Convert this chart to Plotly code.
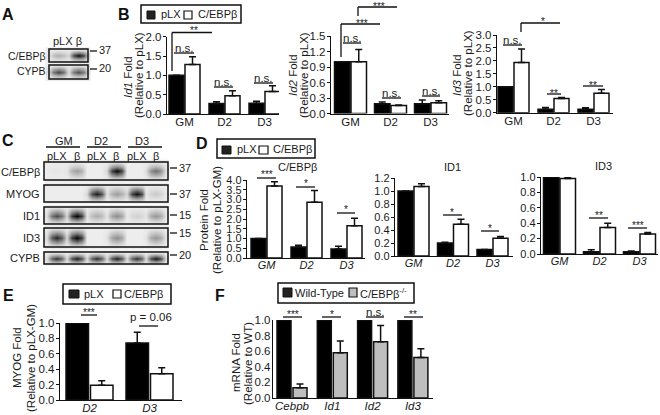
import plotly.graph_objects as go

W, H = 660, 415
FONT = "Liberation Sans"
INK = "#1a1a1a"

# ---------- data ----------
cats_time = ["GM", "D2", "D3"]
cats_e = ["D2", "D3"]
cats_f = ["Cebpb", "Id1", "Id2", "Id3"]

id1_plx = [1.0, 0.27, 0.28];   id1_plx_err = [0, 0.05, 0.05]
id1_ceb = [1.28, 0.47, 0.58];  id1_ceb_err = [0.20, 0.13, 0.15]
id2_plx = [1.0, 0.19, 0.19];   id2_plx_err = [0, 0.035, 0.07]
id2_ceb = [1.0, 0.155, 0.21];  id2_ceb_err = [0.24, 0.01, 0.035]
id3_plx = [1.0, 0.13, 0.13];   id3_plx_err = [0, 0.07, 0.06]
id3_ceb = [1.94, 0.55, 0.75];  id3_ceb_err = [0.52, 0.04, 0.15]

pc_plx = [1.0, 0.56, 0.46];    pc_plx_err = [0, 0.09, 0.14]
pc_ceb = [3.69, 2.86, 1.65];   pc_ceb_err = [0.22, 0.60, 0.39]
p1_plx = [1.0, 0.20, 0.10];    p1_plx_err = [0, 0.01, 0]
p1_ceb = [1.07, 0.49, 0.275];  p1_ceb_err = [0.04, 0.075, 0.025]
p3_plx = [1.0, 0.03, 0.03];    p3_plx_err = [0, 0.025, 0.01]
p3_ceb = [0.98, 0.343, 0.26];  p3_ceb_err = [0.02, 0.057, 0.02]

myog_plx = [1.0, 0.74];        myog_plx_err = [0, 0.14]
myog_ceb = [0.19, 0.34];       myog_ceb_err = [0.06, 0.08]

ko_wt = [1.0, 1.0, 1.0, 1.0];  ko_wt_err = [0, 0, 0, 0]
ko_ko = [0.13, 0.58, 0.72, 0.52]; ko_ko_err = [0.05, 0.15, 0.21, 0.11]

# blot band strengths per lane (0 = blank, 1 = saturated)
blot_a_ceb = [0.28, 0.95]
blot_a_cypb = [0.72, 0.68]
blot_c_ceb = [0.03, 0.35, 0.0, 0.98, 0.0, 0.55]
blot_c_myog = [0.0, 0.0, 0.9, 0.35, 0.95, 0.15]
blot_c_id1 = [0.7, 1.0, 0.28, 0.42, 0.12, 0.38]
blot_c_id3 = [0.85, 1.0, 0.0, 0.42, 0.0, 0.38]
blot_c_cypb = [0.8, 0.9, 0.82, 0.88, 0.8, 0.92]

# ---------- helpers ----------
fig = go.Figure()
shapes, annots = [], []
layout = {}
axn = [1]


def px(x):
    return x / W


def py(y):
    return 1 - y / H


def text(x, y, s, size=11.5, anchor="center", angle=0, **kw):
    annots.append(dict(x=px(x), y=py(y), xref="paper", yref="paper", text=s, showarrow=False,
                       xanchor=anchor, yanchor="middle", textangle=angle,
                       font=dict(family=FONT, size=size, color=kw.get("color", INK)),
                       borderpad=0, borderwidth=0))


def line(x0, y0, x1, y1, w=1.3):
    shapes.append(dict(type="line", xref="paper", yref="paper", x0=px(x0), y0=py(y0), x1=px(x1),
                       y1=py(y1), line=dict(color="#111", width=w)))


def rect(x0, y0, x1, y1, fill="rgba(0,0,0,0)", w=1.3, layer="above"):
    shapes.append(dict(type="rect", xref="paper", yref="paper", x0=px(x0), y0=py(y0), x1=px(x1),
                       y1=py(y1), fillcolor=fill, line=dict(color="#111", width=w), layer=layer))


def sig(x0, x1, y, label, ty=None, size=None):
    line(x0, y, x1, y)
    star = label.startswith("*")
    pos = ty if ty is not None else y - (3 if star else 5)
    text((x0 + x1) / 2, pos + (2 if star else 0), label, size=size or (10 if star else 11.5))


def bracket(x0, y0, ytop, x1, label, ty):
    line(x0, y0, x0, ytop)
    line(x0, ytop, x1, ytop)
    text((x0 + x1) / 2 + 2, ty + 2, label, size=10)


def panel(left, right, bottom, top, ymax, dtick, cats, a, ae, b, be, c0, pitch, bw, gap=1,
          bcolor="white", italic=False, names=("pLX", "C/EBPβ"), fs=11.5, tl=3):
    i = axn[0]
    axn[0] += 1
    xa, ya = ("x", "y") if i == 1 else (f"x{i}", f"y{i}")
    xkey, ykey = ("xaxis", "yaxis") if i == 1 else (f"xaxis{i}", f"yaxis{i}")
    layout[xkey] = dict(domain=[px(left), px(right)], anchor=ya, type="category",
                        range=[(left - c0) / pitch, (right - c0) / pitch], showgrid=False,
                        showline=True, linecolor="#111", linewidth=1.4, ticks="", zeroline=False,
                        ticklabelstandoff=-3,
                        tickfont=dict(family=FONT, size=fs, color=INK,
                                      style="italic" if italic else "normal"))
    layout[ykey] = dict(domain=[py(bottom), py(top)], anchor=xa, range=[0, ymax], dtick=dtick, tick0=0,
                        tickformat=".1f", showgrid=False, zeroline=False, showline=True,
                        linecolor="#111", linewidth=1.4, ticks="outside", ticklen=tl, tickwidth=1.2,
                        ticklabelstandoff=-1,
                        tickcolor="#111", tickfont=dict(family=FONT, size=fs, color=INK))
    w = bw / pitch
    g = gap / 2 / pitch
    for vals, errs, col, off, nm in ((a, ae, "black", -w - g, names[0]), (b, be, bcolor, g, names[1])):
        fig.add_trace(go.Bar(x=cats, y=vals, width=w, offset=off, name=nm, xaxis=xa, yaxis=ya,
                             marker=dict(color=col, line=dict(color="#111", width=1.5)),
                             error_y=dict(type="data", array=errs, arrayminus=[0] * len(errs),
                                          symmetric=False, color="#111", thickness=1.5, width=3.5),
                             showlegend=False))


def blot(strengths, lane0, pitch, y0, y1, box_x0, box_x1, rows=(0.0, 0.45, 1.0, 0.45, 0.0)):
    col_shape = [0.1, 0.75, 1.0, 0.75]
    xs, col_index, col_w = [], [], []
    for i in range(len(strengths)):
        for k, cw in enumerate(col_shape):
            xs.append(lane0 + (i - 0.5 + k / 4) * pitch)
            col_index.append(i)
            col_w.append(cw)
    xs.append(lane0 + (len(strengths) - 0.5) * pitch)
    col_index.append(len(strengths) - 1)
    col_w.append(0.1)
    ny = len(rows)
    ys = [y0 + (y1 - y0) * j / (ny - 1) for j in range(ny)]
    z = [[0.04 + 0.96 * strengths[ci] * cw * r for ci, cw in zip(col_index, col_w)] for r in rows]
    fig.add_trace(go.Heatmap(x=xs, y=ys, z=z, xaxis="x99", yaxis="y99", zmin=0, zmax=1,
                             zsmooth="best", showscale=False, hoverinfo="skip",
                             colorscale=[[0, "#f6f6f6"], [0.5, "#808080"], [1, "#000000"]]))
    rect(box_x0, y0, box_x1, y1, w=1.5)


# ---------- panel letters ----------
for x, y, s in ((8, 14, "A"), (124, 14, "B"), (8, 140, "C"), (202, 143, "D"), (8, 295, "E"), (220, 295, "F")):
    text(x, y, s, size=16, anchor="center")
    annots[-1]["text"] = f"<b>{s}</b>"
    annots[-1]["font"]["color"] = "#111"

# ---------- A ----------
text(67, 41, "pLX β", size=11)
text(46, 56, "C/EBPβ", size=10.5, anchor="right")
text(46, 71, "CYPB", size=10.5, anchor="right")
blot(blot_a_ceb, 58, 20, 49, 62, 49, 88)
blot(blot_a_cypb, 58, 20, 65, 79, 49, 88)
line(90, 51, 97, 51)
text(99, 50, "37", size=11, anchor="left")
line(90, 69, 97, 69)
text(99, 68, "20", size=11, anchor="left")


# ---------- legends ----------
def legend(x0, y0, x1, y1, sw1, t1x, sw2, t2x, t2="C/EBPβ", fill2="white", sy=(0, 0)):
    rect(x0, y0, x1, y1, w=1.5)
    rect(sw1[0], sy[0], sw1[1], sy[1], fill="#222", w=1)
    text(t1x[0], (y0 + y1) / 2, t1x[1], anchor="left", size=11)
    rect(sw2[0], sy[0], sw2[1], sy[1], fill=fill2, w=1.2)
    text(t2x, (y0 + y1) / 2, t2, anchor="left", size=11)


legend(141, 5, 241, 23, (147, 155), (161, "pLX"), (184, 192), 198, sy=(11, 19))
legend(217, 139, 315, 158, (222, 231), (237, "pLX"), (259, 268), 273, sy=(146, 154))
legend(63, 284, 171, 304, (69, 79), (84, "pLX"), (113, 121), 124, sy=(290, 298))
legend(278, 283, 414, 303, (283, 292), (295, "Wild-Type"), (349, 357), 360,
       t2="C/EBPβ<sup>-/-</sup>", fill2="#BEBEBE", sy=(288, 297))

# ---------- B ----------
panel(167, 279, 114, 36.7, 2.0, 0.5, cats_time, id1_plx, id1_plx_err, id1_ceb, id1_ceb_err, 184.5, 40, 15)
text(128, 77, "<i>Id1</i> Fold", angle=-90)
text(139, 75, "(Relative to pLX)", angle=-90)
bracket(172, 71, 32.5, 212, "**", 29)
sig(174, 194, 53, "n.s.")
sig(214, 233, 87, "n.s.")
sig(254, 273, 83, "n.s.")

panel(331, 449, 113.5, 36, 1.5, 0.3, cats_time, id2_plx, id2_plx_err, id2_ceb, id2_ceb_err, 350.5, 40, 15.5)
text(293, 75, "<i>Id2</i> Fold", angle=-90)
text(304, 75, "(Relative to pLX)", angle=-90)
bracket(341, 57, 24, 380, "***", 21)
bracket(358, 16, 7, 397, "***", 4)
sig(343, 361, 43, "n.s.")
sig(382, 401, 98, "n.s.")
sig(422, 440, 96, "n.s.")

panel(497, 613, 112.7, 35, 3.0, 0.5, cats_time, id3_plx, id3_plx_err, id3_ceb, id3_ceb_err, 513.5, 40, 15)
text(457, 75, "<i>Id3</i> Fold", angle=-90)
text(468, 73, "(Relative to pLX)", angle=-90)
bracket(521, 32, 23, 560, "*", 20)
sig(503, 522, 45, "n.s.")
sig(547, 561, 94, "**")
sig(583, 603, 86, "**")

# ---------- C ----------
for name, cx, x0, x1 in (("GM", 64, 46, 80), ("D2", 101, 87, 121), ("D3", 142, 128, 162)):
    text(cx, 141, name, size=11)
    line(x0, 147, x1, 147)
for x, s in ((57, "pLX"), (77, "β"), (97, "pLX"), (116, "β"), (137, "pLX"), (156, "β")):
    text(x, 156, s, size=11)
blots = ((blot_c_ceb, "C/EBPβ", 162, 180, "37", 168),
         (blot_c_myog, "MYOG", 185, 202, "37", 194),
         (blot_c_id1, "ID1", 207, 224, "15", 215),
         (blot_c_id3, "ID3", 228, 247, "15", 233),
         (blot_c_cypb, "CYPB", 252, 264, "20", 255))
for vals, name, y0, y1, mw, my in blots:
    blot(vals, 57, 19.8, y0, y1, 44, 168)
    text(40, (y0 + y1) / 2 + (0.5 if name != "CYPB" else 0), name, size=11, anchor="right")
    line(170, my, 177, my)
    text(179, my, mw, size=11, anchor="left")

# ---------- D ----------
panel(247, 365, 258, 180, 4.0, 0.5, cats_time, pc_plx, pc_plx_err, pc_ceb, pc_ceb_err, 266.5, 40, 15,
      italic=True, fs=11)
text(297, 167, "C/EBPβ", size=11)
text(204, 220, "Protein Fold", angle=-90)
text(217, 220, "(Relative to pLX-GM)", angle=-90)
sig(257, 276, 178, "***", ty=172)
sig(296, 315, 187, "*", ty=181)
sig(337, 355, 213, "*", ty=208)

panel(395, 513, 256, 178, 1.2, 0.2, cats_time, p1_plx, p1_plx_err, p1_ceb, p1_ceb_err, 413.5, 39.5, 15,
      italic=True, fs=11)
text(452, 167, "ID1", size=11)
sig(443, 462, 215, "*", ty=210)
sig(481, 499, 231, "*", ty=226)

panel(541, 658, 254, 177, 1.0, 0.2, cats_time, p3_plx, p3_plx_err, p3_ceb, p3_ceb_err, 559.5, 40, 15.5,
      italic=True, fs=11)
text(603, 166, "ID3", size=11)
sig(589, 608, 218, "**", ty=213)
sig(628, 647, 228, "***", ty=223)

# ---------- E ----------
panel(60, 182, 400, 323, 1.0, 0.2, cats_e, myog_plx, myog_plx_err, myog_ceb, myog_ceb_err, 89.5, 60, 22.5, gap=2,
      italic=True, fs=11.5)
text(17, 358, "MYOG Fold", angle=-90)
text(31, 358, "(Relative to pLX-GM)", angle=-90)
sig(81, 97, 315, "***", ty=310)
line(139, 326, 158, 326)
text(151, 317, "p = 0.06", size=11.5)

# ---------- F ----------
panel(273, 433, 398, 320, 1.0, 0.2, cats_f, ko_wt, ko_wt_err, ko_ko, ko_ko_err, 292, 40.3, 14, gap=2,
      bcolor="#BEBEBE", italic=True, names=("Wild-Type", "C/EBPβ-/-"), fs=11.5, tl=0)
text(236, 363, "mRNA Fold", angle=-90)
text(248, 363, "(Relative to WT)", angle=-90)
sig(283, 302, 317, "***", ty=312)
sig(322, 341, 317, "*", ty=312)
sig(366, 384, 317, "n.s.", ty=312)
sig(404, 423, 317, "**", ty=312)

# pixel-mapped axes used by the blot images
layout["xaxis99"] = dict(domain=[0, 1], range=[0, W], visible=False, anchor="y99", fixedrange=True)
layout["yaxis99"] = dict(domain=[0, 1], range=[H, 0], visible=False, anchor="x99", fixedrange=True)

fig.update_layout(width=W, height=H, margin=dict(l=0, r=0, t=0, b=0, pad=0, autoexpand=False), autosize=False,
                  paper_bgcolor="white", plot_bgcolor="rgba(0,0,0,0)", barmode="overlay",
                  font=dict(family=FONT, color=INK), shapes=shapes, annotations=annots, **layout)
fig.write_html(
    "out.html",
    config={"displayModeBar": False},
    post_script="document.body.style.margin='0';document.documentElement.style.overflow='hidden';"
                "var d=document.querySelector('.plotly-graph-div');d.style.position='absolute';"
                "d.style.top='0';d.style.left='0';",
)
